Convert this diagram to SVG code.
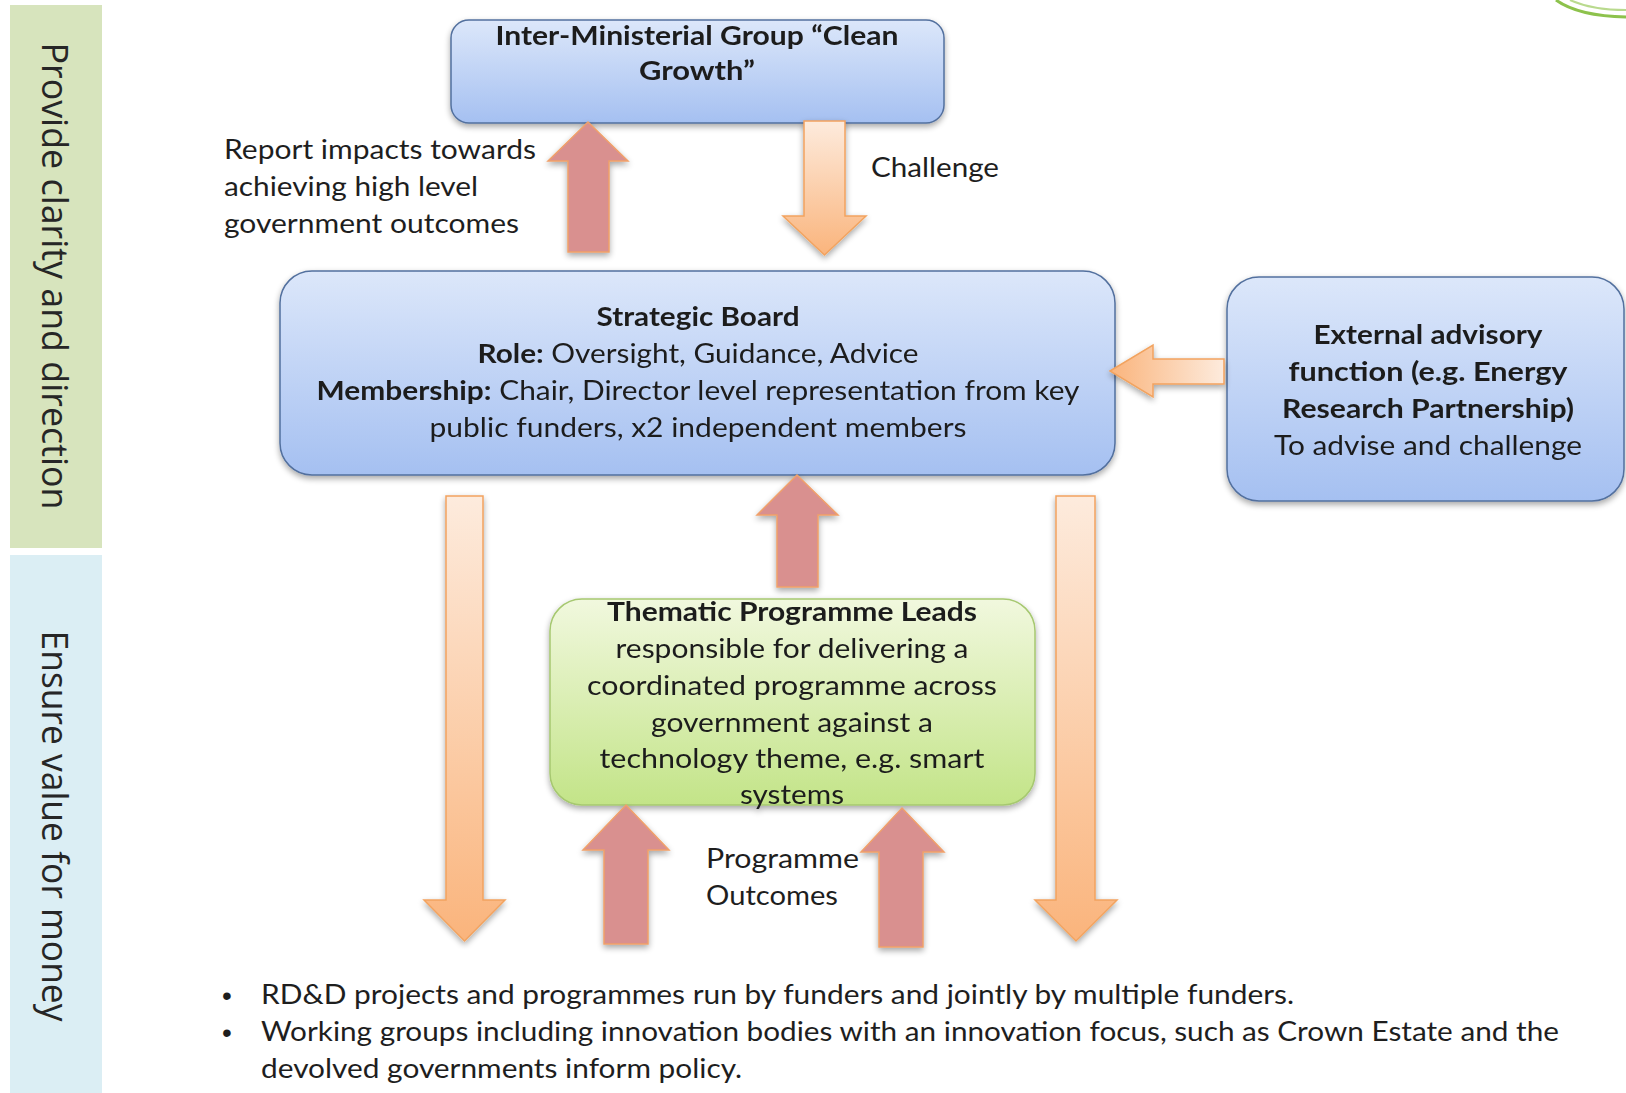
<svg xmlns="http://www.w3.org/2000/svg" width="1626" height="1093" viewBox="0 0 1626 1093">
<defs>
  <linearGradient id="gBlue" x1="0" y1="0" x2="0" y2="1">
    <stop offset="0" stop-color="#DCE7FA"/>
    <stop offset="1" stop-color="#A5C0F1"/>
  </linearGradient>
  <linearGradient id="gGreen" x1="0" y1="0" x2="0" y2="1">
    <stop offset="0" stop-color="#F1F8DE"/>
    <stop offset="1" stop-color="#C3E488"/>
  </linearGradient>
  <linearGradient id="gOrV" x1="0" y1="0" x2="0" y2="1">
    <stop offset="0" stop-color="#FDEBDD"/>
    <stop offset="1" stop-color="#FAB47C"/>
  </linearGradient>
  <linearGradient id="gOrH" x1="1" y1="0" x2="0" y2="0">
    <stop offset="0" stop-color="#FDEBDD"/>
    <stop offset="1" stop-color="#FAB47C"/>
  </linearGradient>
  <filter id="sh" x="-10%" y="-10%" width="120%" height="130%">
    <feGaussianBlur in="SourceAlpha" stdDeviation="3"/>
    <feOffset dx="0" dy="3" result="b"/>
    <feComponentTransfer><feFuncA type="linear" slope="0.35"/></feComponentTransfer>
    <feMerge><feMergeNode/><feMergeNode in="SourceGraphic"/></feMerge>
  </filter>
  <style>
    .t { font-family: Lato, "Open Sans", "Liberation Sans", sans-serif; font-size: 27px; fill: #1E1E1E; }
    .b { font-weight: bold; }
    .c { text-anchor: middle; }
    .dot { font-family: "Liberation Sans", sans-serif; font-size: 28px; fill: #1E1E1E; }
    .side { font-family: "Open Sans", "DejaVu Sans", sans-serif; font-size: 36px; fill: #262626; text-anchor: middle; }
    .bluebox { fill: url(#gBlue); stroke: #52709E; stroke-width: 1.5; }
    .greenbox { fill: url(#gGreen); stroke: #A6C870; stroke-width: 1.5; }
    .pink { fill: #D9908F; stroke: #F0A06A; stroke-width: 1.5; }
    .orV { fill: url(#gOrV); stroke: #F2A35F; stroke-width: 1.5; }
    .orH { fill: url(#gOrH); stroke: #F2A35F; stroke-width: 1.5; }
  </style>
</defs>
<rect width="1626" height="1093" fill="#FFFFFF"/>

<g id="sidebar-top">
  <rect x="10" y="5" width="92" height="543" fill="#D7E4BD"/>
  <text class="side" transform="translate(54,276) rotate(90)" x="0" y="12" textLength="467" lengthAdjust="spacingAndGlyphs">Provide clarity and direction</text>
</g>
<g id="sidebar-bottom">
  <rect x="10" y="555" width="92" height="538" fill="#DBEEF4"/>
  <text class="side" transform="translate(54,826) rotate(90)" x="0" y="12" textLength="391" lengthAdjust="spacingAndGlyphs">Ensure value for money</text>
</g>

<path d="M1556,0 Q1578,16 1626,17" fill="none" stroke="#8DC24C" stroke-width="3"/>
<path d="M1570,0 Q1592,10 1626,10" fill="none" stroke="#B9DA8E" stroke-width="2"/>

<g id="node-imgroup" filter="url(#sh)">
  <rect class="bluebox" x="451" y="20" width="493" height="103" rx="18"/>
  <text class="t b c" x="697" y="45" textLength="403" lengthAdjust="spacingAndGlyphs">Inter-Ministerial Group “Clean</text>
  <text class="t b c" x="697" y="80" textLength="116" lengthAdjust="spacingAndGlyphs">Growth”</text>
</g>

<g id="node-strategic" filter="url(#sh)">
  <rect class="bluebox" x="280" y="271" width="835" height="204" rx="32"/>
  <text class="t b c" x="698" y="326" textLength="203" lengthAdjust="spacingAndGlyphs">Strategic Board</text>
  <text class="t c" x="698" y="363" textLength="441" lengthAdjust="spacingAndGlyphs"><tspan class="b">Role:</tspan> Oversight, Guidance, Advice</text>
  <text class="t c" x="698" y="400" textLength="763" lengthAdjust="spacingAndGlyphs"><tspan class="b">Membership:</tspan> Chair, Director level representation from key</text>
  <text class="t c" x="698" y="437" textLength="537" lengthAdjust="spacingAndGlyphs">public funders, x2 independent members</text>
</g>

<g id="node-external" filter="url(#sh)">
  <rect class="bluebox" x="1227" y="277" width="397" height="224" rx="32"/>
  <text class="t b c" x="1428" y="344" textLength="229" lengthAdjust="spacingAndGlyphs">External advisory</text>
  <text class="t b c" x="1428" y="381" textLength="279" lengthAdjust="spacingAndGlyphs">function  (e.g. Energy</text>
  <text class="t b c" x="1428" y="418" textLength="292" lengthAdjust="spacingAndGlyphs">Research Partnership)</text>
  <text class="t c" x="1428" y="455" textLength="308" lengthAdjust="spacingAndGlyphs">To advise and challenge</text>
</g>

<g id="node-thematic" filter="url(#sh)">
  <rect class="greenbox" x="550" y="599" width="485" height="206" rx="32"/>
  <text class="t b c" x="792" y="621" textLength="370" lengthAdjust="spacingAndGlyphs">Thematic Programme Leads</text>
  <text class="t c" x="792" y="658" textLength="353" lengthAdjust="spacingAndGlyphs">responsible for delivering a</text>
  <text class="t c" x="792" y="695" textLength="410" lengthAdjust="spacingAndGlyphs">coordinated programme across</text>
  <text class="t c" x="792" y="732" textLength="282" lengthAdjust="spacingAndGlyphs">government against a</text>
  <text class="t c" x="792" y="768" textLength="385" lengthAdjust="spacingAndGlyphs">technology theme,  e.g. smart</text>
  <text class="t c" x="792" y="804" textLength="104" lengthAdjust="spacingAndGlyphs">systems</text>
</g>

<g id="connectors" filter="url(#sh)">
  <path class="pink" d="M588,122 L628,161 L609,161 L609,252 L568,252 L568,161 L548,161 Z"/>
  <path class="orV" d="M804,121 L845,121 L845,216 L866,216 L824.5,255 L783,216 L804,216 Z"/>
  <path class="orH" d="M1110,371 L1153,345 L1153,359 L1224,359 L1224,384 L1153,384 L1153,397 Z"/>
  <path class="pink" d="M797,475 L838,515 L818,515 L818,587 L777,587 L777,515 L757,515 Z"/>
  <path class="orV" d="M446,496 L483,496 L483,900 L505,900 L464.5,941 L424,900 L446,900 Z"/>
  <path class="orV" d="M1056,496 L1095,496 L1095,900 L1117,900 L1076,941 L1035,900 L1056,900 Z"/>
  <path class="pink" d="M626,805 L669,850 L648,850 L648,944 L604,944 L604,850 L583,850 Z"/>
  <path class="pink" d="M902,808 L944,852 L923,852 L923,947 L879,947 L879,852 L861,852 Z"/>
</g>

<g id="labels">
  <text class="t" x="224" y="159" textLength="312" lengthAdjust="spacingAndGlyphs">Report impacts towards</text>
  <text class="t" x="224" y="196" textLength="254" lengthAdjust="spacingAndGlyphs">achieving high level</text>
  <text class="t" x="224" y="233" textLength="295" lengthAdjust="spacingAndGlyphs">government outcomes</text>
  <text class="t" x="871" y="177" textLength="128" lengthAdjust="spacingAndGlyphs">Challenge</text>
  <text class="t" x="706" y="868" textLength="153" lengthAdjust="spacingAndGlyphs">Programme</text>
  <text class="t" x="706" y="905" textLength="132" lengthAdjust="spacingAndGlyphs">Outcomes</text>
</g>

<g id="bullets">
  <text class="dot" x="222" y="1005">•</text>
  <text class="t" x="261" y="1004" textLength="1033" lengthAdjust="spacingAndGlyphs">RD&amp;D projects and programmes run by funders and jointly by multiple funders.</text>
  <text class="dot" x="222" y="1042">•</text>
  <text class="t" x="261" y="1041" textLength="1298" lengthAdjust="spacingAndGlyphs">Working groups including innovation bodies with an innovation focus, such as Crown Estate and the</text>
  <text class="t" x="261" y="1078" textLength="481" lengthAdjust="spacingAndGlyphs">devolved governments inform policy.</text>
</g>
</svg>
